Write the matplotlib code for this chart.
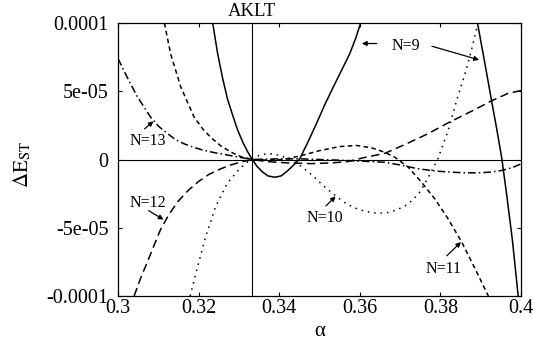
#!/usr/bin/env python3
"""
Singlet-triplet gap near the AKLT point for N=9..13
"""
import numpy as np
import matplotlib
matplotlib.use('Agg')
import matplotlib.pyplot as plt
from matplotlib import transforms

SCALE = 1e-5  # values below are in units of 1e-5

alpha_n9a = [0.3235, 0.3247, 0.3260, 0.3272, 0.3285, 0.3297, 0.3310, 0.3322, 0.3333,
             0.3345, 0.3358, 0.3372, 0.3389, 0.3405, 0.3420, 0.3436, 0.3451, 0.3470,
             0.3492, 0.3512, 0.3534, 0.3555, 0.3575, 0.3590, 0.3602]
de_n9a = [10.0, 7.8, 5.9, 4.4, 3.2, 2.15, 1.25, 0.55, 0.0,
          -0.5, -0.9, -1.2, -1.3, -1.2, -0.85, -0.4, 0.05, 1.2,
          2.6, 3.95, 5.3, 6.55, 7.75, 8.9, 10.0]
alpha_n9b = [0.3892, 0.3910, 0.3927, 0.3940, 0.3952, 0.3965, 0.3979, 0.3993]
de_n9b = [10.0, 7.1, 4.3, 2.2, 0.15, -2.7, -6.0, -10.0]

alpha_n10 = [0.3179, 0.3198, 0.3218, 0.3243, 0.3272, 0.3301, 0.3320, 0.3333, 0.3350,
             0.3368, 0.3385, 0.3401, 0.3420, 0.3440, 0.3463, 0.3484, 0.3505, 0.3525,
             0.3546, 0.3567, 0.3588, 0.3608, 0.3630, 0.3650, 0.3670, 0.3691, 0.3712,
             0.3732, 0.3750, 0.3770, 0.3793, 0.3819, 0.3840, 0.3861, 0.3877, 0.3893]
de_n10 = [-10.0, -7.8, -5.6, -3.4, -1.7, -0.7, -0.2, 0.0, 0.3,
          0.42, 0.4, 0.29, 0.1, -0.2, -0.7, -1.2, -1.8, -2.3,
          -2.8, -3.25, -3.55, -3.75, -3.9, -3.93, -3.88, -3.7, -3.4,
          -2.95, -2.35, -1.3, 0.0, 2.1, 4.3, 6.3, 8.0, 10.0]

alpha_n11 = [0.3115, 0.3131, 0.3156, 0.3189, 0.3210, 0.3231, 0.3255, 0.3280, 0.3305,
             0.3333, 0.3370, 0.3410, 0.3450, 0.3500, 0.3550, 0.3592, 0.3630, 0.3660,
             0.3687, 0.3720, 0.3753, 0.3786, 0.3819, 0.3853, 0.3886, 0.3919]
de_n11 = [10.0, 7.7, 5.3, 3.1, 2.25, 1.6, 1.0, 0.55, 0.2,
          0.0, -0.05, 0.0, 0.25, 0.65, 0.95, 1.03, 0.85, 0.55,
          0.17, -0.56, -1.66, -2.88, -4.34, -6.06, -8.0, -10.0]

alpha_n12 = [0.3040, 0.3056, 0.3073, 0.3090, 0.3106, 0.3127, 0.3148, 0.3173, 0.3198,
             0.3225, 0.3255, 0.3280, 0.3305, 0.3333, 0.3370, 0.3420, 0.3480, 0.3530,
             0.3570, 0.3612, 0.3662, 0.3712, 0.3770, 0.3820, 0.3878, 0.3927, 0.3968,
             0.4000]
de_n12 = [-10.0, -8.7, -7.5, -6.25, -5.1, -4.0, -3.1, -2.3, -1.65,
          -1.1, -0.68, -0.4, -0.18, 0.0, -0.15, -0.25, -0.3, -0.25,
          -0.15, 0.15, 0.45, 1.1, 1.9, 2.7, 3.55, 4.3, 4.85,
          5.05]

alpha_n13 = [0.3000, 0.3024, 0.3048, 0.3081, 0.3102, 0.3123, 0.3143, 0.3164, 0.3189,
             0.3214, 0.3240, 0.3264, 0.3300, 0.3333, 0.3400, 0.3450, 0.3500, 0.3550,
             0.3600, 0.3662, 0.3700, 0.3745, 0.3790, 0.3828, 0.3860, 0.3894, 0.3925,
             0.3952, 0.3978, 0.4000]
de_n13 = [7.4, 5.95, 4.6, 3.1, 2.4, 1.9, 1.45, 1.15, 0.88,
          0.66, 0.5, 0.37, 0.17, 0.0, 0.05, 0.05, 0.0, -0.05,
          -0.12, -0.2, -0.4, -0.68, -0.85, -0.93, -0.97, -0.98, -0.92,
          -0.8, -0.6, -0.32]

xticks = [0.3, 0.32, 0.34, 0.36, 0.38, 0.4]
xticklabels = ['0.3', '0.32', '0.34', '0.36', '0.38', '0.4']
yticks = [1e-4, 5e-5, 0, -5e-5, -1e-4]
yticklabels = ['0.0001', '5e-05', '0', '-5e-05', '-0.0001']

plt.rcParams['font.family'] = 'Liberation Serif'
plt.rcParams['mathtext.fontset'] = 'stix'


def curve(ax, a, d, **kw):
  ax.plot(a, np.array(d) * SCALE, color='k', lw=1.1, **kw)


def main():
  fig = plt.figure(figsize=(5.33, 3.49), dpi=100)
  ax = fig.add_axes([0.2214, 0.1519, 0.7561, 0.7821])

  ax.axhline(0, color='k', lw=0.8)
  ax.axvline(1. / 3, color='k', lw=0.8)

  curve(ax, alpha_n9a, de_n9a, ls='-')
  curve(ax, alpha_n9b, de_n9b, ls='-')
  curve(ax, alpha_n10, de_n10, ls=(0, (1, 3.2)))
  curve(ax, alpha_n11, de_n11, ls=(0, (3, 2.2)))
  curve(ax, alpha_n12, de_n12, ls=(0, (5.5, 3)))
  curve(ax, alpha_n13, de_n13, ls=(0, (5, 2, 1, 2)))

  ax.set_xlim(0.3, 0.4)
  ax.set_ylim(-1e-4, 1e-4)
  ax.set_xticks(xticks)
  ax.set_xticklabels(xticklabels)
  ax.set_yticks(yticks)
  ax.set_yticklabels(yticklabels)
  ax.tick_params(direction='in', top=True, right=True, length=3, width=0.8,
                 labelsize=14.5)
  ax.tick_params(axis='x', pad=2)
  ax.tick_params(axis='y', pad=7)
  for s in ax.spines.values():
    s.set_linewidth(0.9)

  ax.set_xlabel('α', fontsize=15, labelpad=3)
  fig.text(22. / 533, 1 - 165. / 349, r'$\Delta\mathrm{E}_{\mathrm{ST}}$',
           rotation=90, ha='center', va='center', fontsize=15)

  trans = transforms.blended_transform_factory(ax.transData, ax.transAxes)
  ax.text(1. / 3, 1.01, 'AKLT', transform=trans, ha='center', va='bottom',
          fontsize=13.5)

  s = SCALE
  arrow = dict(arrowstyle='-|>', color='k', lw=0.9, mutation_scale=7,
               shrinkA=0, shrinkB=0)
  fs = 11.5
  ax.text(0.3715, 8.35 * s, 'N=9', ha='center', va='center', fontsize=fs)
  ax.annotate('', xy=(0.3605, 8.5 * s), xytext=(0.3642, 8.5 * s),
              arrowprops=arrow)
  ax.annotate('', xy=(0.3896, 7.3 * s), xytext=(0.3779, 8.3 * s),
              arrowprops=arrow)
  ax.text(0.3074, 1.39 * s, 'N=13', ha='center', va='center', fontsize=fs)
  ax.annotate('', xy=(0.3088, 2.8 * s), xytext=(0.3066, 2.25 * s),
              arrowprops=arrow)
  ax.text(0.3074, -3.15 * s, 'N=12', ha='center', va='center', fontsize=fs)
  ax.annotate('', xy=(0.3113, -4.4 * s), xytext=(0.3076, -3.75 * s),
              arrowprops=arrow)
  ax.text(0.3513, -4.32 * s, 'N=10', ha='center', va='center', fontsize=fs)
  ax.annotate('', xy=(0.3540, -2.7 * s), xytext=(0.3516, -3.4 * s),
              arrowprops=arrow)
  ax.text(0.3809, -7.99 * s, 'N=11', ha='center', va='center', fontsize=fs)
  ax.annotate('', xy=(0.3851, -6.05 * s), xytext=(0.3816, -7.05 * s),
              arrowprops=arrow)

  fig.savefig('out.png', dpi=100)


if __name__ == '__main__':
  main()
